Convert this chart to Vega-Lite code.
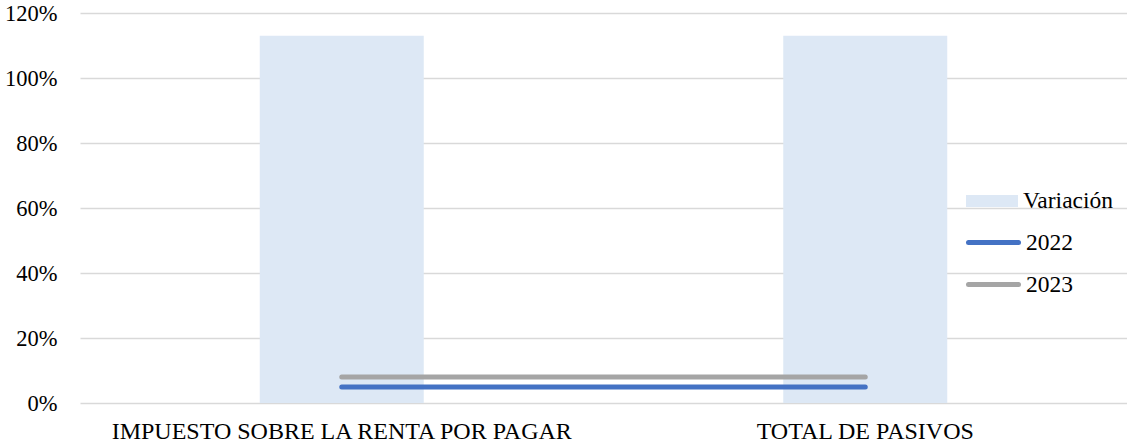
{
  "$schema": "https://vega.github.io/schema/vega-lite/v6.json",
  "width": 1047,
  "height": 390,
  "autosize": {"type": "none"},
  "padding": {"left": 80, "top": 13, "right": 0, "bottom": 42},
  "background": "white",
  "config": {
    "view": {"stroke": null},
    "font": "Liberation Serif",
    "axis": {"labelFont": "Liberation Serif", "labelColor": "#000000", "title": null}
  },
  "data": {
    "values": [
      {"cat": "IMPUESTO SOBRE LA RENTA POR PAGAR", "serie": "Variación", "value": 1.13},
      {"cat": "TOTAL DE PASIVOS", "serie": "Variación", "value": 1.13},
      {"cat": "IMPUESTO SOBRE LA RENTA POR PAGAR", "serie": "2022", "value": 0.049},
      {"cat": "TOTAL DE PASIVOS", "serie": "2022", "value": 0.049},
      {"cat": "IMPUESTO SOBRE LA RENTA POR PAGAR", "serie": "2023", "value": 0.08},
      {"cat": "TOTAL DE PASIVOS", "serie": "2023", "value": 0.08}
    ]
  },
  "encoding": {
    "x": {
      "field": "cat", "type": "nominal", "sort": null,
      "scale": {"paddingInner": 0, "paddingOuter": 0},
      "axis": {"labelAngle": 0, "domain": false, "ticks": false, "labelPadding": 16, "grid": false, "labelFontSize": 24, "labelLimit": 0}
    },
    "y": {
      "field": "value", "type": "quantitative",
      "scale": {"domain": [0, 1.2], "nice": false},
      "axis": {"values": [0, 0.2, 0.4, 0.6, 0.8, 1.0, 1.2], "format": ".0%", "domain": false, "ticks": false, "labelPadding": 23, "labelFontSize": 22.5, "gridColor": "#d9d9d9", "gridWidth": 1.5}
    }
  },
  "layer": [
    {
      "transform": [{"filter": "datum.serie === 'Variación'"}],
      "mark": {"type": "bar", "size": 164},
      "encoding": {
        "fill": {
          "field": "serie", "type": "nominal",
          "scale": {"domain": ["Variación"], "range": ["#dde8f5"]},
          "legend": {
            "title": null, "orient": "none", "legendX": 886, "legendY": 162,
            "symbolType": "M-1,-0.2308H1V0.2308H-1Z", "symbolSize": 2704, "symbolStrokeWidth": 0,
            "labelFont": "Liberation Serif", "labelFontSize": 23.5, "labelColor": "#000000",
            "labelOffset": 5
          }
        }
      }
    },
    {
      "transform": [{"filter": "datum.serie !== 'Variación'"}],
      "mark": {"type": "line", "strokeWidth": 5, "strokeCap": "round"},
      "encoding": {
        "stroke": {
          "field": "serie", "type": "nominal",
          "scale": {"domain": ["2022", "2023"], "range": ["#4472c4", "#a5a5a5"]},
          "legend": {
            "title": null, "orient": "none", "legendX": 886, "legendY": 202,
            "symbolType": "stroke", "symbolSize": 2500, "symbolStrokeWidth": 5,
            "labelFont": "Liberation Serif", "labelFontSize": 23.5, "labelColor": "#000000",
            "labelOffset": 5, "rowPadding": 3,
            "encode": {"symbols": {"update": {"strokeCap": {"value": "round"}}}}
          }
        }
      }
    }
  ]
}
